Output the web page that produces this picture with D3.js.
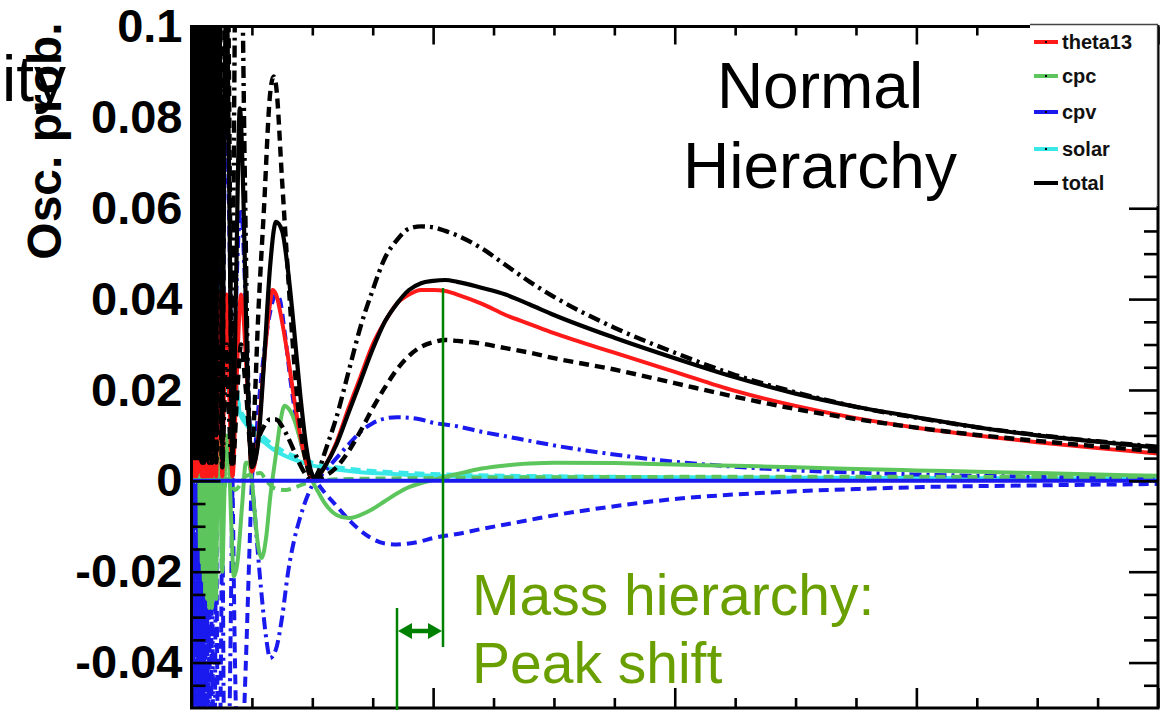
<!DOCTYPE html>
<html><head><meta charset="utf-8">
<script src="https://cdn.jsdelivr.net/npm/d3@7"></script>
<style>
html,body{margin:0;padding:0;background:#fff;}
svg{display:block;font-family:"Liberation Sans",Arial,Helvetica,sans-serif;}
</style></head><body>
<svg id="chart" width="1164" height="710"></svg>
<script>
// Oscillation probability contributions vs neutrino energy (GeV), normal hierarchy.
// Each series: [energy, probability] pairs.

const theta13 = [[0.01,0.02],[0.02,0.001],[0.03,0.03],[0.04,0.001],[0.05,0.003],[0.06,0.03],[0.07,0.002],[0.078,0.035],[0.085,0.001],[0.089,0.036],[0.093,0.001],[0.097,0.037],[0.102,0.001],[0.107,0.038],[0.113,0.001],[0.12,0.039],[0.1275,0.001],[0.132,0.02],[0.136,0.04],[0.141,0.02],[0.146,0.001],[0.151,0.02],[0.157,0.041],[0.163,0.02],[0.17,0.001],[0.177,0.02],[0.185,0.041],[0.195,0.02],[0.204,0.001],[0.215,0.021],[0.227,0.041],[0.24,0.021],[0.255,0.001],[0.27,0.021],[0.29,0.041],[0.31,0.021],[0.34,0.001],[0.37,0.02],[0.41,0.041],[0.46,0.022],[0.5,0.002],[0.55,0.009],[0.6,0.026],[0.65,0.039],[0.67,0.042],[0.7,0.041],[0.75,0.035],[0.8,0.027],[0.85,0.018],[0.9,0.010],[0.95,0.004],[1.0,0.0002],[1.05,0.001],[1.1,0.003],[1.2,0.0085],[1.3,0.016],[1.4,0.023],[1.5,0.030],[1.6,0.035],[1.7,0.039],[1.8,0.041],[1.9,0.042],[2.0,0.042],[2.1,0.0418],[2.2,0.041],[2.4,0.039],[2.6,0.0365],[2.8,0.0345],[3.0,0.0325],[3.5,0.0282],[4.0,0.024],[4.5,0.0198],[5.0,0.0165],[5.5,0.0138],[6.0,0.0117],[6.5,0.0100],[7.0,0.0085],[7.5,0.0072],[8.0,0.0060]];

const cpcZero = [[0.03,0.0],[0.04,0.01],[0.05,0.0],[0.06,0.02],[0.07,-0.015],[0.078,0.02],[0.085,-0.018],[0.089,0.022],[0.093,-0.02],[0.097,0.025],[0.102,-0.022],[0.107,0.028],[0.113,-0.025],[0.12,0.03],[0.1275,-0.026],[0.136,0.032],[0.146,-0.028],[0.157,0.034],[0.17,-0.028],[0.185,0.033],[0.204,-0.026],[0.215,0.005],[0.227,0.025],[0.24,0.0],[0.255,-0.02],[0.27,-0.005],[0.29,0.01],[0.31,0.005],[0.33,-0.01],[0.35,-0.021],[0.38,-0.018],[0.42,-0.005],[0.45,0.004],[0.47,0.004],[0.5,0.0],[0.52,-0.006],[0.55,-0.014],[0.58,-0.017],[0.62,-0.012],[0.65,-0.004],[0.7,0.006],[0.73,0.012],[0.77,0.0165],[0.8,0.016],[0.85,0.0135],[0.9,0.009],[0.95,0.004],[1.0,0.0],[1.05,-0.0025],[1.1,-0.0048],[1.2,-0.0075],[1.3,-0.0082],[1.4,-0.0075],[1.5,-0.0062],[1.6,-0.0045],[1.7,-0.0028],[1.8,-0.0014],[1.9,-0.0005],[2.0,0.0002],[2.2,0.0015],[2.4,0.0027],[2.6,0.0034],[2.8,0.0038],[3.0,0.004],[3.5,0.0039],[4.0,0.0036],[4.5,0.0033],[5.0,0.003],[5.5,0.0026],[6.0,0.0023],[6.5,0.002],[7.0,0.0017],[7.5,0.0014],[8.0,0.0011]];

const cpcMax = [[0.05,0.0],[0.1,0.004],[0.12,-0.004],[0.15,0.005],[0.18,-0.005],[0.22,0.004],[0.26,-0.003],[0.3,0.002],[0.36,-0.002],[0.45,0.001],[0.52,0.0015],[0.57,0.0017],[0.62,0.0],[0.7,-0.0018],[0.78,-0.002],[0.85,-0.0015],[0.95,-0.0005],[1.05,0.0],[1.3,0.0004],[2.0,0.0006],[3.0,0.0008],[5.0,0.0009],[8.0,0.0008]];

const cpvPlus = [[0.01,-0.08],[0.02,0.1],[0.03,-0.08],[0.04,0.1],[0.05,0.1],[0.055,-0.08],[0.06,0.1],[0.065,-0.08],[0.07,0.1],[0.075,-0.08],[0.08,0.1],[0.085,0.0],[0.089,-0.08],[0.093,0.0],[0.097,0.1],[0.102,0.0],[0.107,-0.08],[0.113,0.0],[0.12,0.1],[0.1275,0.0],[0.136,-0.08],[0.146,0.0],[0.157,0.09],[0.17,0.0],[0.185,-0.08],[0.204,0.0],[0.215,0.05],[0.227,0.075],[0.24,0.05],[0.255,0.0],[0.27,-0.06],[0.29,-0.08],[0.31,-0.06],[0.34,0.0],[0.37,0.04],[0.41,0.06],[0.44,0.045],[0.47,0.02],[0.5,0.0],[0.52,-0.006],[0.55,-0.016],[0.58,-0.025],[0.62,-0.035],[0.65,-0.039],[0.7,-0.037],[0.75,-0.03],[0.8,-0.02],[0.85,-0.013],[0.9,-0.008],[0.95,-0.004],[1.0,-0.001],[1.05,0.0005],[1.1,0.002],[1.2,0.005],[1.3,0.008],[1.4,0.0108],[1.5,0.0127],[1.6,0.0137],[1.7,0.014],[1.8,0.0139],[1.9,0.0135],[2.0,0.0128],[2.2,0.012],[2.4,0.0108],[2.6,0.0098],[2.8,0.0088],[3.0,0.0078],[3.5,0.0058],[4.0,0.0042],[4.5,0.0031],[5.0,0.0023],[5.5,0.0018],[6.0,0.0014],[7.0,0.0009],[8.0,0.0006]];

const cpvMinus = [[0.01,0.1],[0.02,-0.08],[0.03,0.1],[0.04,-0.08],[0.05,-0.08],[0.055,0.1],[0.06,-0.08],[0.065,0.1],[0.07,-0.08],[0.075,0.1],[0.08,-0.08],[0.085,0.0],[0.089,0.09],[0.093,0.0],[0.097,-0.08],[0.102,0.0],[0.107,0.09],[0.113,0.0],[0.12,-0.08],[0.1275,0.0],[0.136,0.09],[0.146,0.0],[0.157,-0.08],[0.17,0.0],[0.185,0.08],[0.204,0.0],[0.215,-0.05],[0.227,-0.075],[0.24,-0.05],[0.255,0.0],[0.27,0.06],[0.29,0.08],[0.31,0.06],[0.34,0.0],[0.36,-0.04],[0.39,-0.065],[0.42,-0.06],[0.45,-0.04],[0.48,-0.015],[0.5,0.0],[0.53,0.008],[0.56,0.018],[0.6,0.028],[0.65,0.037],[0.7,0.041],[0.73,0.04],[0.77,0.033],[0.82,0.022],[0.87,0.013],[0.92,0.007],[0.97,0.003],[1.03,0.0],[1.1,-0.0025],[1.2,-0.0055],[1.3,-0.0085],[1.4,-0.011],[1.5,-0.0128],[1.6,-0.0138],[1.7,-0.014],[1.8,-0.0138],[1.9,-0.0133],[2.0,-0.0126],[2.2,-0.0117],[2.4,-0.0106],[2.6,-0.0096],[2.8,-0.0086],[3.0,-0.0076],[3.5,-0.0056],[4.0,-0.004],[4.5,-0.003],[5.0,-0.0023],[5.5,-0.0018],[6.0,-0.0014],[7.0,-0.001],[8.0,-0.0007]];

const cpvZero = [[0.0,0.0],[8.0,0.0]];

const solar = [[0.05,0.1],[0.06,0.06],[0.07,0.1],[0.08,0.05],[0.09,0.09],[0.1,0.045],[0.11,0.08],[0.12,0.04],[0.14,0.07],[0.16,0.035],[0.18,0.06],[0.2,0.03],[0.22,0.062],[0.24,0.025],[0.26,0.04],[0.28,0.02],[0.3,0.03],[0.33,0.017],[0.36,0.022],[0.4,0.015],[0.45,0.0125],[0.5,0.011],[0.55,0.0095],[0.6,0.0085],[0.7,0.0065],[0.8,0.0052],[0.9,0.0042],[1.0,0.0034],[1.1,0.0029],[1.2,0.0025],[1.4,0.0019],[1.6,0.0016],[1.8,0.0013],[2.0,0.0011],[2.5,0.0009],[3.0,0.0008],[4.0,0.0006],[5.0,0.0005],[6.0,0.0005],[8.0,0.0004]];

const solarAlt = [[0.05,0.08],[0.065,0.1],[0.075,0.06],[0.085,0.095],[0.095,0.05],[0.105,0.085],[0.115,0.045],[0.13,0.075],[0.15,0.04],[0.17,0.065],[0.19,0.035],[0.21,0.06],[0.23,0.03],[0.25,0.045],[0.27,0.024],[0.29,0.033],[0.32,0.02],[0.35,0.024],[0.39,0.017],[0.45,0.0135],[0.5,0.012],[0.6,0.0095],[0.7,0.0075],[0.8,0.006],[0.9,0.005],[1.0,0.004],[1.2,0.003],[1.4,0.0024],[1.6,0.002],[2.0,0.0015],[3.0,0.001],[5.0,0.0007],[8.0,0.0005]];

const totalZero = [[0.01,0.12],[0.02,0.01],[0.03,0.13],[0.04,0.01],[0.05,0.02],[0.06,0.12],[0.07,0.015],[0.078,0.13],[0.085,0.015],[0.089,0.14],[0.093,0.015],[0.097,0.14],[0.102,0.015],[0.107,0.14],[0.113,0.015],[0.12,0.14],[0.1275,0.015],[0.136,0.14],[0.146,0.015],[0.157,0.13],[0.17,0.012],[0.185,0.125],[0.204,0.01],[0.215,0.08],[0.227,0.12],[0.24,0.08],[0.255,0.008],[0.27,0.07],[0.29,0.11],[0.31,0.07],[0.34,0.006],[0.37,0.045],[0.40,0.082],[0.43,0.062],[0.46,0.026],[0.5,0.003],[0.55,0.008],[0.6,0.026],[0.65,0.047],[0.7,0.057],[0.75,0.055],[0.8,0.046],[0.85,0.033],[0.9,0.019],[0.95,0.0075],[1.0,0.0012],[1.02,0.0003],[1.05,0.001],[1.1,0.003],[1.2,0.008],[1.3,0.015],[1.4,0.022],[1.5,0.029],[1.6,0.035],[1.7,0.039],[1.8,0.042],[1.9,0.0435],[2.0,0.044],[2.1,0.0442],[2.2,0.0438],[2.4,0.0425],[2.6,0.041],[2.8,0.0388],[3.0,0.0365],[3.5,0.0315],[4.0,0.027],[4.5,0.0228],[5.0,0.0192],[5.5,0.0163],[6.0,0.014],[6.5,0.0118],[7.0,0.0100],[7.5,0.0086],[8.0,0.0073]];

const totalPlus = [[0.015,0.005],[0.025,0.14],[0.035,0.005],[0.045,0.13],[0.05,0.005],[0.058,0.14],[0.065,0.005],[0.07,0.03],[0.075,0.005],[0.082,0.15],[0.085,0.004],[0.089,0.03],[0.093,0.004],[0.097,0.15],[0.102,0.004],[0.107,0.03],[0.113,0.004],[0.12,0.15],[0.1275,0.004],[0.136,0.03],[0.146,0.004],[0.157,0.15],[0.17,0.004],[0.185,0.03],[0.204,0.004],[0.215,0.09],[0.227,0.15],[0.24,0.09],[0.255,0.003],[0.27,0.015],[0.29,0.03],[0.31,0.015],[0.335,0.003],[0.35,0.07],[0.365,0.12],[0.39,0.15],[0.415,0.12],[0.44,0.07],[0.47,0.02],[0.5,0.004],[0.55,0.009],[0.6,0.012],[0.65,0.0135],[0.7,0.0135],[0.75,0.012],[0.8,0.0095],[0.85,0.0065],[0.9,0.0035],[0.95,0.0012],[1.0,0.0002],[1.05,0.002],[1.1,0.006],[1.2,0.014],[1.3,0.024],[1.4,0.034],[1.5,0.042],[1.6,0.049],[1.7,0.053],[1.8,0.0555],[1.9,0.056],[2.0,0.0558],[2.1,0.055],[2.2,0.054],[2.4,0.0512],[2.6,0.0475],[2.8,0.0438],[3.0,0.0405],[3.5,0.0337],[4.0,0.0282],[4.5,0.0233],[5.0,0.0195],[5.5,0.0163],[6.0,0.0139],[6.5,0.0118],[7.0,0.0101],[7.5,0.0087],[8.0,0.0075]];

const totalMinus = [[0.015,0.13],[0.025,0.005],[0.035,0.14],[0.045,0.005],[0.05,0.13],[0.058,0.005],[0.065,0.14],[0.07,0.005],[0.075,0.03],[0.08,0.005],[0.085,0.004],[0.089,0.15],[0.093,0.004],[0.097,0.03],[0.102,0.004],[0.107,0.15],[0.113,0.004],[0.12,0.03],[0.1275,0.004],[0.136,0.15],[0.146,0.004],[0.157,0.03],[0.17,0.004],[0.185,0.15],[0.204,0.004],[0.227,0.03],[0.255,0.003],[0.27,0.09],[0.29,0.15],[0.31,0.09],[0.34,0.003],[0.38,0.02],[0.41,0.03],[0.45,0.02],[0.5,0.005],[0.52,0.015],[0.55,0.035],[0.6,0.06],[0.65,0.085],[0.68,0.089],[0.7,0.087],[0.75,0.066],[0.8,0.045],[0.85,0.026],[0.9,0.012],[0.95,0.004],[1.0,0.0005],[1.05,0.0005],[1.1,0.001],[1.2,0.003],[1.3,0.0065],[1.4,0.011],[1.5,0.016],[1.6,0.0205],[1.7,0.0245],[1.8,0.0275],[1.9,0.0295],[2.0,0.0305],[2.1,0.031],[2.2,0.0308],[2.4,0.0302],[2.6,0.0292],[2.8,0.0282],[3.0,0.027],[3.5,0.0245],[4.0,0.0215],[4.5,0.0185],[5.0,0.0158],[5.5,0.0136],[6.0,0.0117],[6.5,0.0101],[7.0,0.0088],[7.5,0.0076],[8.0,0.0065]];

// Axis ticks and labels
const yMajorTicks = [-0.04,-0.02,0,0.02,0.04,0.06,0.08,0.1];
const yTickLabels = ["-0.04","-0.02","0","0.02","0.04","0.06","0.08","0.1"];
const yMinorTicks = [-0.045,-0.035,-0.03,-0.025,-0.015,-0.01,-0.005,0.005,0.01,0.015,0.025,0.03,0.035,0.045,0.05,0.055,0.065,0.07,0.075,0.085,0.09,0.095];
const xMajorTicks = [0,2,4,6,8];
const xMinorTicks = [0.5,1,1.5,2.5,3,3.5,4.5,5,5.5,6.5,7,7.5];

const legendNames = ["theta13","cpc","cpv","solar","total"];
const legendColors = ["#ff1a1a","#5cc65c","#1a1aee","#3ae8e8","#000000"];

const svg = d3.select("#chart");
const plot = {left:191.5, right:1158, top:26.5, bottom:708};
const x = d3.scaleLinear().domain([0,8]).range([plot.left, plot.right]);
const y = d3.scaleLinear().domain([-0.05,0.1]).range([plot.bottom, plot.top]);

svg.append("rect").attr("width",1164).attr("height",710).attr("fill","#fff");

svg.append("defs").append("clipPath").attr("id","plotClip")
  .append("rect").attr("x",plot.left).attr("y",plot.top)
  .attr("width",plot.right-plot.left).attr("height",plot.bottom-plot.top);

const line = d3.line().x(d=>x(d[0])).y(d=>y(d[1])).curve(d3.curveMonotoneX);

const DASH = "10,6", DASHDOT = "12,5,3,5";
const series = [
  {data:solarAlt,  color:legendColors[3], dash:DASH,    w:4},
  {data:solar,     color:legendColors[3], dash:null,    w:4},
  {data:cpvMinus,  color:legendColors[2], dash:DASH,    w:4},
  {data:cpvPlus,   color:legendColors[2], dash:DASHDOT, w:4},
  {data:cpcMax,    color:legendColors[1], dash:DASH,    w:4},
  {data:cpcZero,   color:legendColors[1], dash:null,    w:4},
  {data:theta13,   color:legendColors[0], dash:null,    w:4},
  {data:totalMinus,color:"#000",          dash:DASH,    w:4.4},
  {data:totalPlus, color:"#000",          dash:DASHDOT, w:4.4},
  {data:totalZero, color:"#000",          dash:null,    w:4.2},
  {data:cpvZero,   color:legendColors[2], dash:null,    w:4}
];

const curves = svg.append("g").attr("clip-path","url(#plotClip)");
series.forEach(s=>{
  curves.append("path").datum(s.data)
    .attr("d",line).attr("fill","none")
    .attr("stroke",s.color).attr("stroke-width",s.w)
    .attr("stroke-dasharray",s.dash)
    .attr("stroke-linejoin","round");
});

// Axes: ticks point inward, labels only on the left
function styleAxis(g){
  g.select(".domain").remove();
  g.selectAll(".tick line").attr("stroke","#000").attr("stroke-width",2.6);
}
svg.append("g").attr("transform",`translate(${plot.left},0)`)
  .call(d3.axisLeft(y).tickValues(yMajorTicks).tickSizeInner(-29).tickSizeOuter(0).tickPadding(9)
        .tickFormat((d,i)=>yTickLabels[i]))
  .call(styleAxis)
  .call(g=>g.selectAll("text").attr("font-size",47).attr("font-weight","bold")
        .attr("fill","#000").attr("font-family",'"Liberation Sans",Arial,sans-serif'));
svg.append("g").attr("transform",`translate(${plot.left},0)`)
  .call(d3.axisLeft(y).tickValues(yMinorTicks).tickSizeInner(-14).tickSizeOuter(0).tickFormat(""))
  .call(styleAxis);
svg.append("g").attr("transform",`translate(${plot.right},0)`)
  .call(d3.axisRight(y).tickValues(yMajorTicks).tickSizeInner(-29).tickSizeOuter(0).tickFormat(""))
  .call(styleAxis);
svg.append("g").attr("transform",`translate(${plot.right},0)`)
  .call(d3.axisRight(y).tickValues(yMinorTicks).tickSizeInner(-14).tickSizeOuter(0).tickFormat(""))
  .call(styleAxis);
svg.append("g").attr("transform",`translate(0,${plot.bottom})`)
  .call(d3.axisBottom(x).tickValues(xMajorTicks).tickSizeInner(-20).tickSizeOuter(0).tickFormat(""))
  .call(styleAxis);
svg.append("g").attr("transform",`translate(0,${plot.bottom})`)
  .call(d3.axisBottom(x).tickValues(xMinorTicks).tickSizeInner(-10).tickSizeOuter(0).tickFormat(""))
  .call(styleAxis);
svg.append("g").attr("transform",`translate(0,${plot.top})`)
  .call(d3.axisTop(x).tickValues(xMajorTicks).tickSizeInner(-18).tickSizeOuter(0).tickFormat(""))
  .call(styleAxis);
svg.append("g").attr("transform",`translate(0,${plot.top})`)
  .call(d3.axisTop(x).tickValues(xMinorTicks).tickSizeInner(-9).tickSizeOuter(0).tickFormat(""))
  .call(styleAxis);

// Frame
svg.append("rect").attr("x",plot.left).attr("y",plot.top)
  .attr("width",plot.right-plot.left).attr("height",plot.bottom-plot.top)
  .attr("fill","none").attr("stroke","#000").attr("stroke-width",3);

// Legend
const lg = svg.append("g");
lg.append("rect").attr("x",1030).attr("y",24.5).attr("width",128).attr("height",181)
  .attr("fill","#fff");
lg.append("path").attr("d","M1030,24.5H1157.5V205").attr("fill","none")
  .attr("stroke","#444").attr("stroke-width",1.3);
const legendY = [42,76,112,149,183];
legendNames.forEach((n,i)=>{
  lg.append("line").attr("x1",1034).attr("x2",1058).attr("y1",legendY[i]).attr("y2",legendY[i])
    .attr("stroke",legendColors[i]).attr("stroke-width",4);
  if(i<4) lg.append("rect").attr("x",1045).attr("y",legendY[i]-1).attr("width",2).attr("height",2).attr("fill","#000");
  lg.append("text").attr("x",1062).attr("y",legendY[i]).attr("dy","0.36em")
    .attr("font-size",20).attr("font-weight","bold").attr("fill","#111").text(n);
});

// Y axis title
svg.append("text").attr("x",2).attr("y",101).attr("font-size",64).attr("fill","#000").text("ity");
svg.append("text").attr("transform","translate(61,141) rotate(-90)")
  .attr("text-anchor","middle").attr("font-size",48).attr("font-weight","bold")
  .attr("fill","#000").text("Osc. prob.");

// Title
svg.append("text").attr("x",820).attr("y",108).attr("text-anchor","middle")
  .attr("font-size",64).attr("fill","#000").text("Normal");
svg.append("text").attr("x",820).attr("y",188).attr("text-anchor","middle")
  .attr("font-size",64).attr("fill","#000").text("Hierarchy");

// Peak-shift annotation
const ann = svg.append("g");
const arrowGreen = "#008000";
ann.append("line").attr("x1",443).attr("x2",443).attr("y1",288).attr("y2",647)
  .attr("stroke",arrowGreen).attr("stroke-width",2.5);
ann.append("line").attr("x1",397).attr("x2",397).attr("y1",608).attr("y2",710)
  .attr("stroke",arrowGreen).attr("stroke-width",2.5);
ann.append("line").attr("x1",410).attr("x2",430).attr("y1",631).attr("y2",631)
  .attr("stroke",arrowGreen).attr("stroke-width",4.5);
ann.append("path").attr("d","M398,631L412,623L412,639Z").attr("fill",arrowGreen);
ann.append("path").attr("d","M442,631L428,623L428,639Z").attr("fill",arrowGreen);
ann.append("text").attr("x",472).attr("y",615).attr("font-size",57).attr("fill","#6a9f00").text("Mass hierarchy:");
ann.append("text").attr("x",472).attr("y",683).attr("font-size",57).attr("fill","#6a9f00").text("Peak shift");
</script>
</body></html>
